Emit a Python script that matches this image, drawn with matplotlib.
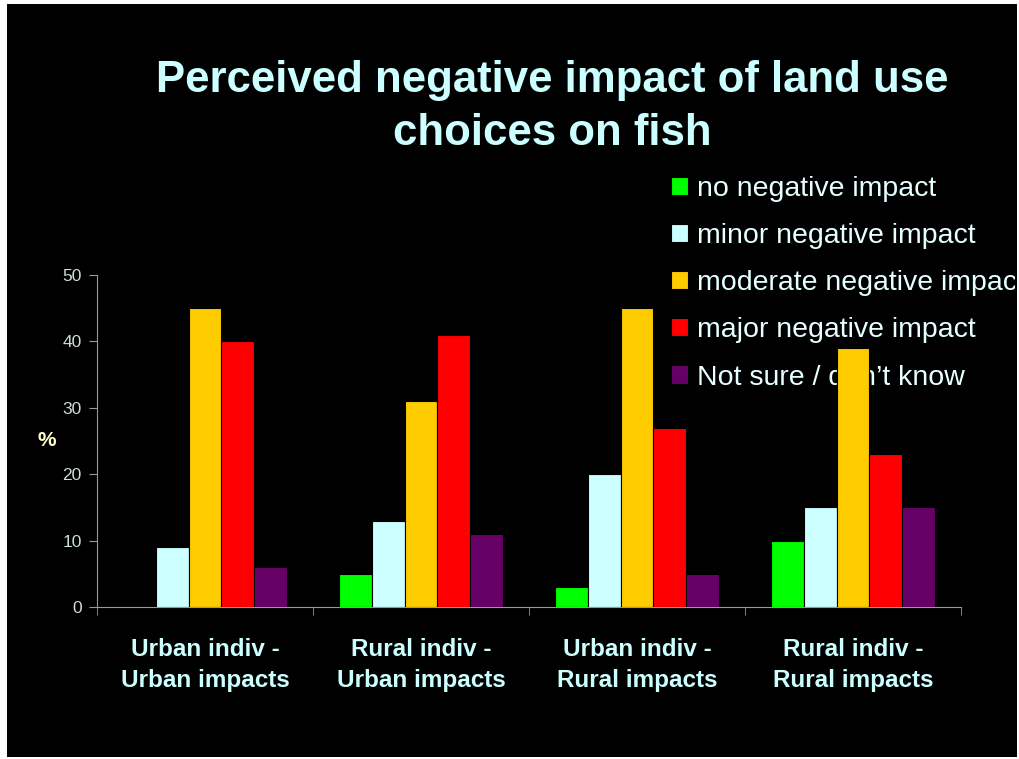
import matplotlib.pyplot as plt
import numpy as np
from matplotlib.patches import Rectangle
from matplotlib.transforms import Bbox

plt.rcParams['font.family'] = ['Liberation Sans', 'DejaVu Sans']

# data
groups = ['Urban indiv -\nUrban impacts', 'Rural indiv -\nUrban impacts',
          'Urban indiv -\nRural impacts', 'Rural indiv -\nRural impacts']
series = ['no negative impact', 'minor negative impact', 'moderate negative impact',
          'major negative impact', 'Not sure / don\u2019t know']
no_neg = [0, 5, 3, 10]
minor_neg = [9, 13, 20, 15]
moderate_neg = [45, 31, 45, 39]
major_neg = [40, 41, 27, 23]
not_sure = [6, 11, 5, 15]
colors = ['#00FF00', '#CCFFFF', '#FFCC00', '#FF0000', '#660066']

values = [no_neg, minor_neg, moderate_neg, major_neg, not_sure]

fig = plt.figure(figsize=(10.2, 7.59), dpi=100, facecolor='white')
# black slide area inside a thin white border
bg = Rectangle((7 / 1020, 1 - 757 / 759), 1010 / 1020, 753 / 759,
               transform=fig.transFigure, facecolor='black', edgecolor='none', zorder=-10)
fig.patches.append(bg)

ax = fig.add_axes([97 / 1020, 1 - 607 / 759, 864 / 1020, (607 - 275) / 759])
ax.set_facecolor('black')

x = np.arange(len(groups))
w = 0.152
for i, (vals, c, lab) in enumerate(zip(values, colors, series)):
    ax.bar(x + (i - 2) * w, vals, w, color=c, edgecolor='black', linewidth=0.8,
           label=lab, zorder=3)

ax.set_xlim(-0.5, 3.5)
ax.set_ylim(0, 50)
ax.set_yticks([0, 10, 20, 30, 40, 50])
ax.set_xticks(x)
ax.set_xticklabels(groups, fontsize=17.5, fontweight='bold', color='#CCFFFF',
                   linespacing=1.45)
ax.set_xticks(np.arange(-0.5, 4, 1), minor=True)
ax.tick_params(axis='x', which='major', length=0, pad=22)
ax.tick_params(axis='x', which='minor', length=6, color='#999999')
ax.tick_params(axis='y', length=6, color='#999999', labelcolor='#CCDDDD', labelsize=12.5,
               pad=5)

for s in ['top', 'right']:
    ax.spines[s].set_visible(False)
for s in ['left', 'bottom']:
    ax.spines[s].set_color('#999999')

ax.set_ylabel('%', rotation=0, fontsize=15, fontweight='bold', color='#FFFFCC',
              labelpad=11, va='center')

fig.text(0.541, 1 - 107 / 759, 'Perceived negative impact of land use\nchoices on fish',
         ha='center', va='center', fontsize=31.5, fontweight='bold', color='#CCFFFF',
         linespacing=1.4)

leg = ax.legend(loc='upper left', bbox_to_anchor=(657 / 1020, 1 - 162 / 759),
                bbox_transform=fig.transFigure, frameon=False, fontsize=20.5,
                labelcolor='#E6FFFF', handlelength=0.6, handleheight=0.6,
                handletextpad=0.3, labelspacing=0.74, borderpad=0)
leg.set_zorder(1)
clip = Bbox.from_extents(7, 2, 1015, 755)
for t in leg.get_texts():
    t.set_clip_box(clip)
    t.set_clip_on(True)

fig.savefig('out.png', dpi=100, facecolor='white')
